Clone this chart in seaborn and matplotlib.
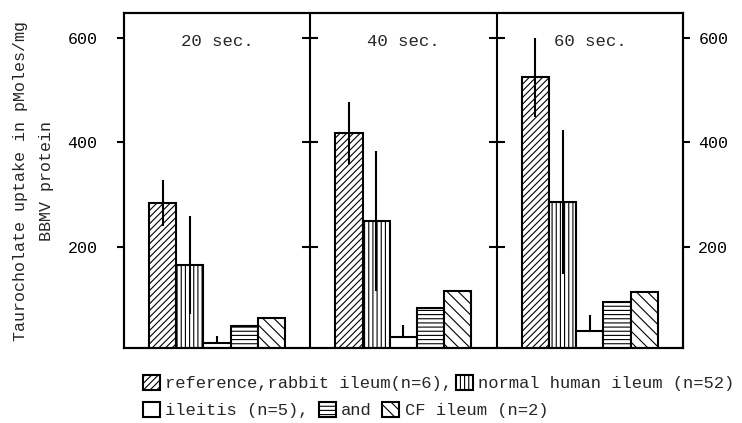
import numpy as np
import pandas as pd
import matplotlib
matplotlib.use("Agg")
import matplotlib.pyplot as plt
import seaborn as sns

# values (pMoles/mg BBMV protein)
times = ["20 sec.", "40 sec.", "60 sec."]
groups = ["reference", "normal", "ileitis", "cf_a", "cf_b"]
ref = [284, 418, 524]
ref_err = [44, 60, 75]
normal = [166, 250, 286]
normal_err = [94, 134, 137]
ileitis = [16, 28, 39]
ileitis_err = [15, 23, 31]
cf_a = [49, 83, 95]
cf_b = [64, 116, 114]
yticks = [200, 400, 600]

values = [ref, normal, ileitis, cf_a, cf_b]
lower_err = [ref_err, normal_err, [0, 0, 0], [0, 0, 0], [0, 0, 0]]
upper_err = [ref_err, normal_err, ileitis_err, [0, 0, 0], [0, 0, 0]]
hatches = ["/////", "||||", "", "----", "\\\\\\"]

df = pd.DataFrame({
    "time": np.tile(times, len(groups)),
    "group": np.repeat(groups, len(times)),
    "uptake": np.concatenate(values),
})

sns.set_style("white")
plt.rcParams["font.family"] = ["Liberation Mono", "DejaVu Sans"]
plt.rcParams["hatch.linewidth"] = 0.8

fig = plt.figure(figsize=(7.42, 4.23), dpi=100)
ax = fig.add_axes([0.167, 0.177, 0.7535, 0.792])

sns.barplot(df, x="time", y="uptake", hue="group", hue_order=groups,
            order=times, palette=["white"] * 5, edgecolor="black",
            linewidth=1.5, width=0.73, errorbar=None, legend=False, ax=ax)

# keep the bar containers before errorbar adds its own containers
bars = list(ax.containers)
for cont, h, lo, up, vals in zip(bars, hatches, lower_err, upper_err, values):
    for p in cont:
        p.set_hatch(h)
    xs = [p.get_x() + p.get_width() / 2 for p in cont]
    if max(up) > 0:
        ax.errorbar(xs, vals, yerr=[lo, up], fmt="none", ecolor="black",
                    elinewidth=1.5, capsize=0, zorder=5)

ax.set_xlim(-0.5, 2.5)
ax.set_ylim(7, 647)
ax.set_xticks([])
ax.set_xlabel("")

# panel dividers with their crossing ticks
for x in [0.5, 1.5]:
    ax.axvline(x, color="black", lw=1.5)
    ax.plot([x] * len(yticks), yticks, ls="none", marker="_", ms=11,
            mew=1.5, color="black")

for i, t in enumerate(times):
    ax.text(i, 592, t, ha="center", va="center", fontsize=12.5)

ax.set_yticks(yticks)
ax.tick_params(axis="y", direction="out", length=5, width=1.5, left=True,
               labelsize=12, pad=14, colors="black")
ax.set_ylabel("Taurocholate uptake in pMoles/mg\nBBMV protein",
              fontsize=12, linespacing=1.9)
ax.yaxis.set_label_coords(-0.125, 0.5)

ax2 = ax.twinx()
ax2.set_ylim(ax.get_ylim())
ax2.set_yticks(yticks)
ax2.tick_params(axis="y", direction="out", length=5, width=1.5, right=True,
                labelsize=12, pad=6, colors="black")
for a in (ax, ax2):
    for s in a.spines.values():
        s.set_color("black")
        s.set_linewidth(1.5)

handles = [c.patches[0] for c in bars]
fig.legend(handles[:2],
           ["reference,rabbit ileum(n=6),", "normal human ileum (n=52)"],
           loc="center left", bbox_to_anchor=(0.193, 0.095), ncol=2,
           frameon=False, fontsize=12.3, handlelength=1.0, handleheight=1.0,
           handletextpad=0.3, columnspacing=0.2, borderpad=0, borderaxespad=0)
fig.legend(handles[2:],
           ["ileitis (n=5),", "and", "CF ileum (n=2)"],
           loc="center left", bbox_to_anchor=(0.193, 0.031), ncol=3,
           frameon=False, fontsize=12.3, handlelength=1.0, handleheight=1.0,
           handletextpad=0.3, columnspacing=0.6, borderpad=0, borderaxespad=0)

fig.savefig("out.png", dpi=100)
